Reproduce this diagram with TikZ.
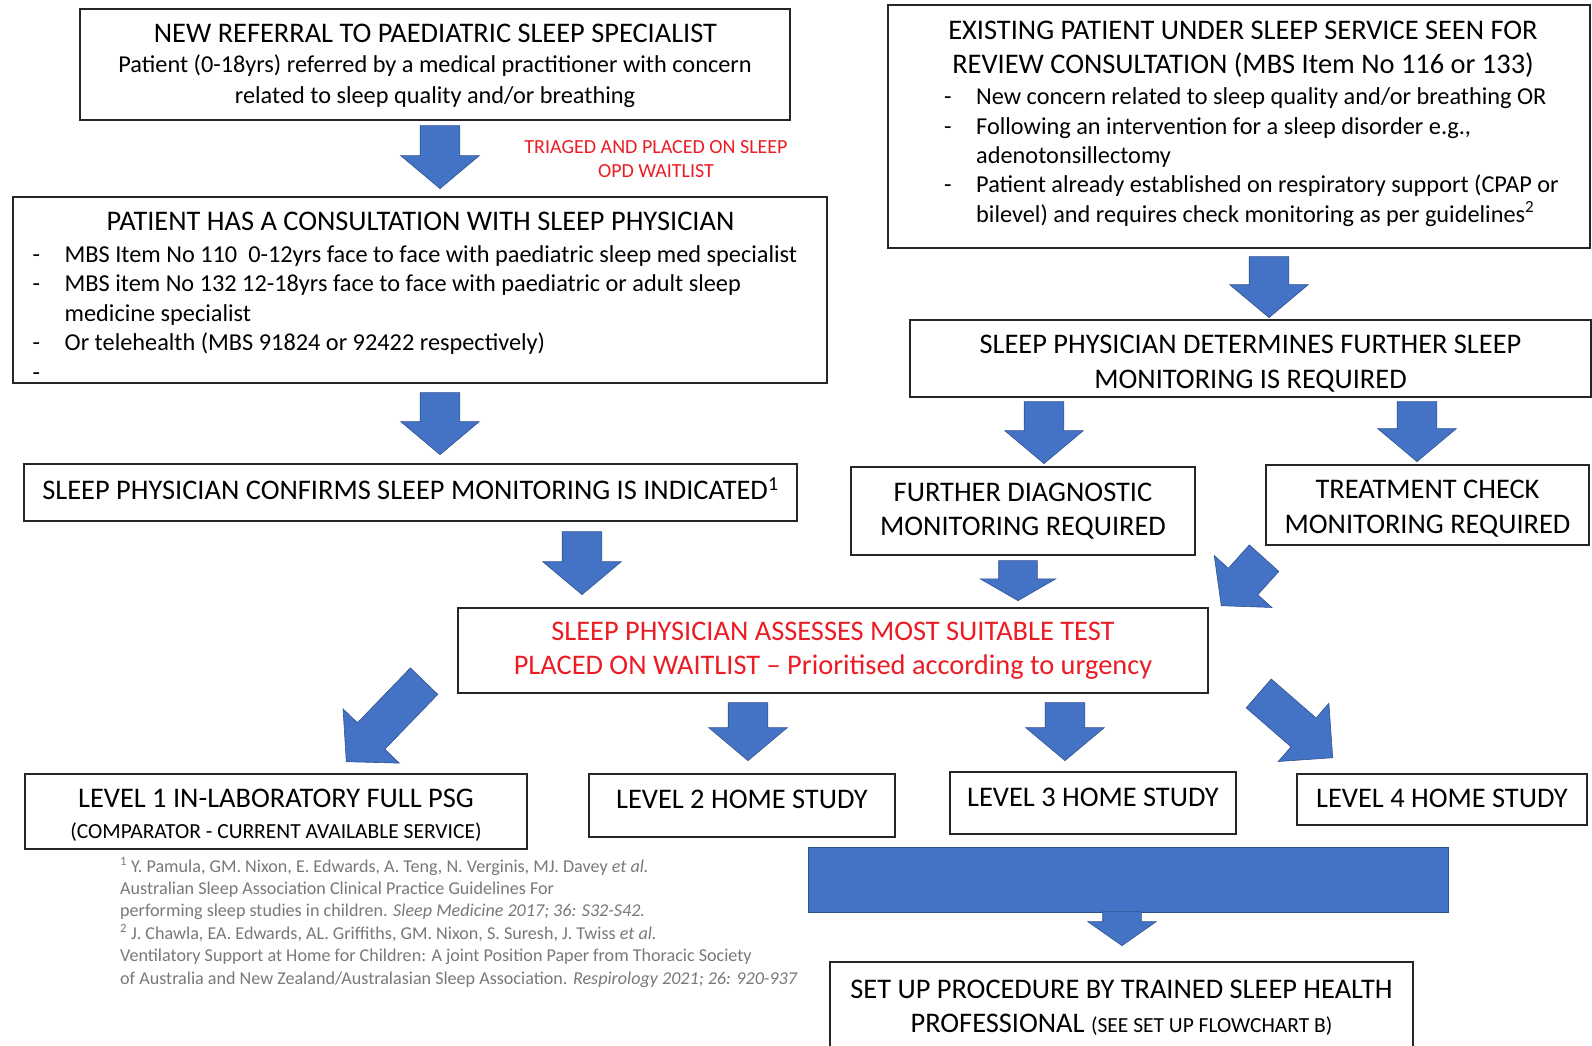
\documentclass[tikz,border=0pt]{standalone}
\usepackage{fontspec}
\setmainfont{Carlito}
\usepackage{tikz}
\usetikzlibrary{shapes.arrows}
\definecolor{arrowblue}{RGB}{68,114,196}
\definecolor{arrowedge}{RGB}{47,82,143}
\definecolor{warnred}{RGB}{235,28,36}
\definecolor{refgray}{RGB}{120,120,120}
\newcommand{\listdash}{\makebox[32pt][l]{-}}

\begin{document}
\begin{tikzpicture}[x=1pt, y=-1pt,
    box/.style={draw=black!85, line width=1.3pt, inner sep=0pt, align=center, font=\fontsize{28.4}{34.5}\selectfont},
    caps/.style={font=\fontsize{28.4}{34.5}\selectfont, inner sep=0pt, align=center, anchor=base},
    body/.style={font=\fontsize{24.3}{29.5}\selectfont, inner sep=0pt, align=left, anchor=base west},
    blockarrow/.style={single arrow, fill=arrowblue, draw=arrowedge, line width=0.6pt, inner xsep=0pt,
        inner ysep=19.5pt, single arrow head extend=19.5pt, single arrow tip angle=100, anchor=tip},
    down/.style={blockarrow, rotate=-90},
  ]
    \useasboundingbox (0,0) rectangle (1592,1046);

    % left column
    \node[box, minimum width=710pt, minimum height=111pt] (referral) at (435,64.5) {};
    \node[caps] (referraltitle) at (435.5,43) {NEW REFERRAL TO PAEDIATRIC SLEEP SPECIALIST};
    \node[body, anchor=base, align=center, font=\fontsize{24.3}{31}\selectfont] (referralbody) at (435,104)
        {Patient (0-18yrs) referred by a medical practitioner with concern\\ related to sleep quality and/or breathing};
    \node[anchor=base, inner sep=0pt, align=center, text=warnred, font=\fontsize{20}{24.5}\selectfont] (triage) at (656,177.5)
        {TRIAGED AND PLACED ON SLEEP\\ OPD WAITLIST};

    \node[box, minimum width=814pt, minimum height=186pt] (patient) at (420,290) {};
    \node[caps] (patienttitle) at (420.5,230) {PATIENT HAS A CONSULTATION WITH SLEEP PHYSICIAN};
    \node[body] (patientlist) at (32.5,380)
        {\listdash MBS Item No 110\ \ 0-12yrs face to face with paediatric sleep med specialist\\
         \listdash MBS item No 132 12-18yrs face to face with paediatric or adult sleep\\
         \hspace*{32pt}medicine specialist\\
         \listdash Or telehealth (MBS 91824 or 92422 respectively)\\
         -};

    \node[box, minimum width=773pt, minimum height=57pt, text depth=7pt] (confirms) at (410.5,492.5)
        {SLEEP PHYSICIAN CONFIRMS SLEEP MONITORING IS INDICATED\textsuperscript{1}};

    % right column
    \node[box, minimum width=702pt, minimum height=243pt] (existing) at (1239,126.5) {};
    \node[caps] (existingtitle) at (1243,74)
        {EXISTING PATIENT UNDER SLEEP SERVICE SEEN FOR\\ REVIEW CONSULTATION (MBS Item No 116 or 133)};
    \node[body, font=\fontsize{24.3}{29.3}\selectfont] (existinglist) at (944,222)
        {\listdash New concern related to sleep quality and/or breathing OR\\
         \listdash Following an intervention for a sleep disorder e.g.,\\
         \hspace*{32pt}adenotonsillectomy\\
         \listdash Patient already established on respiratory support (CPAP or\\
         \hspace*{32pt}bilevel) and requires check monitoring as per guidelines\textsuperscript{2}};

    \node[box, minimum width=681pt, minimum height=77pt, text height=63.5pt] (determines) at (1250.5,358.5)
        {SLEEP PHYSICIAN DETERMINES FURTHER SLEEP\\ MONITORING IS REQUIRED};
    \node[box, minimum width=344pt, minimum height=88pt] (diagnostic) at (1023,511)
        {FURTHER DIAGNOSTIC\\ MONITORING REQUIRED};
    \node[box, minimum width=323pt, minimum height=80pt, text height=60.5pt] (treatment) at (1427.5,505)
        {TREATMENT CHECK\\ MONITORING REQUIRED};

    \node[box, minimum width=750pt, minimum height=85pt, text=warnred] (assess) at (833,650.5)
        {SLEEP PHYSICIAN ASSESSES MOST SUITABLE TEST\\ PLACED ON WAITLIST -- Prioritised according to urgency};

    % levels
    \node[box, minimum width=502pt, minimum height=75pt, text height=56.7pt] (levelone) at (276,811.5)
        {LEVEL 1 IN-LABORATORY FULL PSG\\[-3.5pt] {\fontsize{21.5}{21.5}\selectfont (COMPARATOR - CURRENT AVAILABLE SERVICE)}};
    \node[box, minimum width=306pt, minimum height=63pt, text depth=13pt] (leveltwo) at (742,805.5) {LEVEL 2 HOME STUDY};
    \node[box, minimum width=286pt, minimum height=62pt, text depth=12pt] (levelthree) at (1093,803) {LEVEL 3 HOME STUDY};
    \node[box, minimum width=290pt, minimum height=51pt, text depth=2pt] (levelfour) at (1442,799.5) {LEVEL 4 HOME STUDY};

    \node[fill=arrowblue, draw=arrowedge, line width=0.6pt, minimum width=640pt, minimum height=65pt] (bar) at (1128,879.5) {};
    \node[box, minimum width=583pt, minimum height=88pt, text height=56pt] (setup) at (1121.5,1006)
        {SET UP PROCEDURE BY TRAINED SLEEP HEALTH\\ PROFESSIONAL {\fontsize{21.5}{21.5}\selectfont (SEE SET UP FLOWCHART B)}};

    \node[anchor=base west, inner sep=0pt, align=left, text=refgray, font=\fontsize{18.1}{22.4}\selectfont] (refs) at (120,984)
        {\textsuperscript{1} Y. Pamula, GM. Nixon, E. Edwards, A. Teng, N. Verginis, MJ. Davey \textit{et al.}\\
         Australian Sleep Association Clinical Practice Guidelines For\\
         performing sleep studies in children. \textit{Sleep Medicine 2017; 36: S32-S42.}\\
         \textsuperscript{2} J. Chawla, EA. Edwards, AL. Griffiths, GM. Nixon, S. Suresh, J. Twiss \textit{et al.}\\
         Ventilatory Support at Home for Children: A joint Position Paper from Thoracic Society\\
         of Australia and New Zealand/Australasian Sleep Association. \textit{Respirology 2021; 26: 920-937}};

    % block arrows, placed by their tips
    \node[down, minimum height=63pt] (arrowone) at (440,189) {};
    \node[down, minimum height=62pt] (arrowtwo) at (440,455) {};
    \node[down, minimum height=63pt] (arrowthree) at (582,595) {};
    \node[down, minimum height=61pt] (arrowfour) at (1269,318) {};
    \node[down, minimum height=62pt] (arrowfive) at (1044,464) {};
    \node[down, minimum height=60pt] (arrowsix) at (1417,462) {};
    \node[down, minimum height=40pt, inner ysep=19pt, single arrow head extend=18.5pt, single arrow tip angle=120] (arrowseven) at (1018,601) {};
    \node[blockarrow, rotate=228, minimum height=64pt, single arrow head extend=19pt] (arroweight) at (1221,606) {};
    \node[blockarrow, rotate=226, minimum height=112pt, inner ysep=18.75pt, single arrow head extend=20pt, single arrow tip angle=95] (arrownine) at (346,762) {};
    \node[blockarrow, rotate=-41, minimum height=98pt, inner ysep=18.8pt, single arrow tip angle=90] (arrowten) at (1333,758) {};
    \node[down, minimum height=58pt] (arroweleven) at (748,761) {};
    \node[down, minimum height=58pt] (arrowtwelve) at (1065,761) {};
    \node[down, minimum height=34pt, inner ysep=19pt, single arrow head extend=15pt, single arrow tip angle=110] (arrowbar) at (1122,946) {};
\end{tikzpicture}
\end{document}
